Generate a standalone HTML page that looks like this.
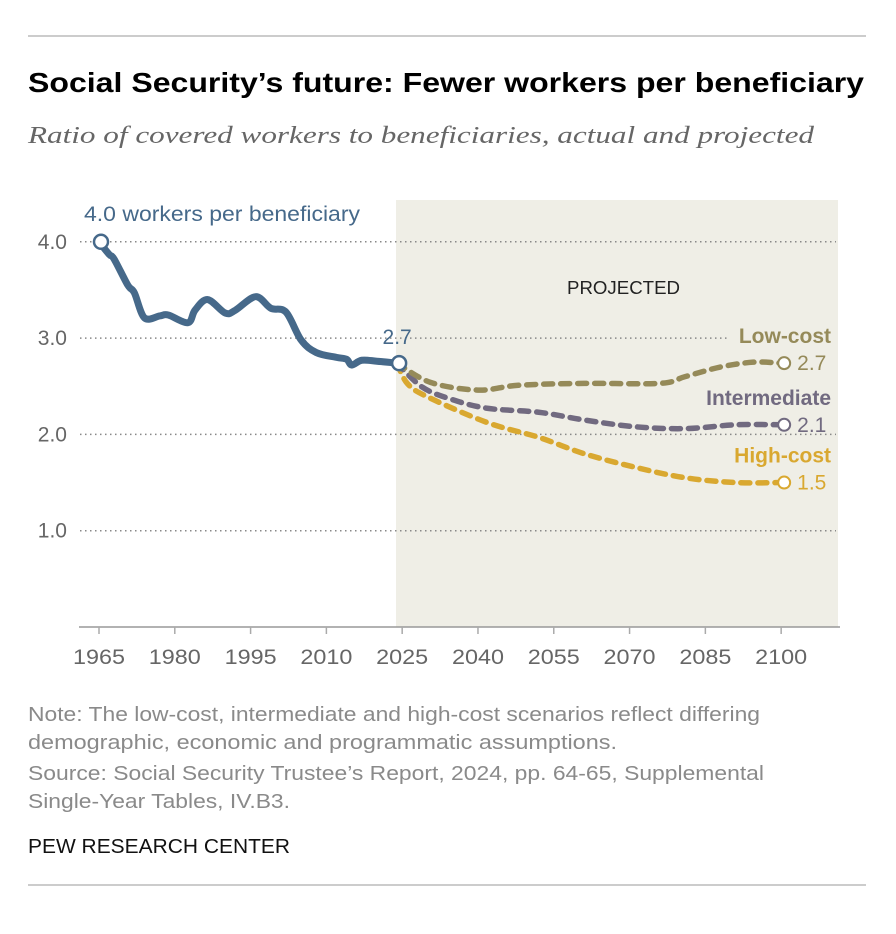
<!DOCTYPE html>
<html><head><meta charset="utf-8"><style>
html,body{margin:0;padding:0;background:#fff;}
svg{display:block;}
text{font-family:"Liberation Sans",sans-serif;}
</style></head><body>
<svg id="chart" width="896" height="934" viewBox="0 0 896 934">
<line x1="28" y1="36" x2="866" y2="36" stroke="#999" stroke-width="1"/>
<text x="28" y="92" font-size="28" font-weight="bold" fill="#000" textLength="836" lengthAdjust="spacingAndGlyphs">Social Security’s future: Fewer workers per beneficiary</text>
<text x="28" y="143" font-size="24" font-style="italic" fill="#666" style="font-family:'Liberation Serif',serif" textLength="786" lengthAdjust="spacingAndGlyphs">Ratio of covered workers to beneficiaries, actual and projected</text>
<rect x="396" y="200" width="442" height="427" fill="#efeee6"/>
<text x="567" y="294" font-size="18" fill="#222" textLength="113" lengthAdjust="spacingAndGlyphs">PROJECTED</text>
<g id="grid"></g>
<g id="axes"></g>
<g id="series"></g>
<text x="28" y="721" font-size="20" fill="#8a8a8a" textLength="732" lengthAdjust="spacingAndGlyphs">Note: The low-cost, intermediate and high-cost scenarios reflect differing</text>
<text x="28" y="749" font-size="20" fill="#8a8a8a" textLength="589" lengthAdjust="spacingAndGlyphs">demographic, economic and programmatic assumptions.</text>
<text x="28" y="780" font-size="20" fill="#8a8a8a" textLength="736" lengthAdjust="spacingAndGlyphs">Source: Social Security Trustee’s Report, 2024, pp. 64-65, Supplemental</text>
<text x="28" y="808" font-size="20" fill="#8a8a8a" textLength="262" lengthAdjust="spacingAndGlyphs">Single-Year Tables, IV.B3.</text>
<text x="28" y="853" font-size="20" fill="#111" textLength="262" lengthAdjust="spacingAndGlyphs">PEW RESEARCH CENTER</text>
<line x1="28" y1="885" x2="866" y2="885" stroke="#999" stroke-width="1"/>
</svg>
<script>
const yTicks=[1,2,3,4];
const yTickLabels=["1.0","2.0","3.0","4.0"];
const xTicks=[1965,1980,1995,2010,2025,2040,2055,2070,2085,2100];
const histYears=[1965,1967,1968,1970.7,1972,1974,1977,1978.7,1982.6,1984,1986.5,1990,1992,1996,1999,2002,2005,2008,2012,2014,2015,2017,2020,2024];
const histValues=[4.0,3.87,3.82,3.55,3.47,3.21,3.23,3.24,3.16,3.29,3.4,3.26,3.29,3.43,3.31,3.27,2.98,2.85,2.8,2.78,2.72,2.77,2.76,2.74];
const lowYears=[2024,2030.6,2040,2048,2061,2076,2081,2088,2094.5,2100];
const lowValues=[2.74,2.54,2.46,2.51,2.53,2.53,2.6,2.7,2.75,2.74];
const intYears=[2024,2029,2035,2042,2052,2061,2071,2081,2091,2100];
const intValues=[2.74,2.49,2.36,2.27,2.23,2.15,2.08,2.06,2.1,2.1];
const highYears=[2024,2026,2030,2042,2052,2061,2071,2081,2091,2100];
const highValues=[2.74,2.53,2.39,2.12,1.97,1.8,1.66,1.55,1.5,1.5];
const NS="http://www.w3.org/2000/svg";
function X(yr){return 99+(yr-1965)*5.053;}
function Y(v){return 627-96.3*v;}
function mk(tag,attrs,parent){const e=document.createElementNS(NS,tag);for(const k in attrs)e.setAttribute(k,attrs[k]);parent.appendChild(e);return e;}
const grid=document.getElementById('grid'),axes=document.getElementById('axes'),series=document.getElementById('series');
yTicks.forEach((v,i)=>{
  const l=mk('line',{x1:80,x2:v===3?730:836,y1:Y(v),y2:Y(v),stroke:'#888','stroke-width':1.5,'stroke-dasharray':'1.5 3.5'},grid);
  
  
  const t=mk('text',{x:67,y:Y(v)+7,'font-size':21,fill:'#666','text-anchor':'end'},axes);
  t.textContent=yTickLabels[i];
  
  
});
const ax=mk('line',{x1:79,x2:840,y1:627,y2:627,stroke:'#999','stroke-width':1.5},axes);


xTicks.forEach(yr=>{
  const tk=mk('line',{x1:X(yr),x2:X(yr),y1:627,y2:634,stroke:'#aaa','stroke-width':1.5},axes);
  
  
  const t=mk('text',{x:X(yr),y:664,'font-size':21,fill:'#666','text-anchor':'middle',textLength:52,lengthAdjust:'spacingAndGlyphs'},axes);
  t.textContent=String(yr);
  
  
});
function path(xs,vs){
  const p=xs.map((x,i)=>[X(x),Y(vs[i])]);
  let d='M'+p[0][0]+','+p[0][1];
  for(let i=0;i<p.length-1;i++){
    const p0=p[Math.max(0,i-1)],p1=p[i],p2=p[i+1],p3=p[Math.min(p.length-1,i+2)];
    const c1=[p1[0]+(p2[0]-p0[0])/6,p1[1]+(p2[1]-p0[1])/6],c2=[p2[0]-(p3[0]-p1[0])/6,p2[1]-(p3[1]-p1[1])/6];
    d+=' C'+c1+' '+c2+' '+p2;
  }
  return d;
}
const proj=[[highYears,highValues,'#d9a830','high-cost'],[intYears,intValues,'#716a80','intermediate'],[lowYears,lowValues,'#958a59','low-cost']];
proj.forEach(s=>{
  const p=mk('path',{d:path(s[0],s[1]),fill:'none',stroke:s[2],'stroke-width':5.5,'stroke-dasharray':'9 8','stroke-linecap':'round'},series);
  
  
  const n=s[0].length-1;
  const c=mk('circle',{cx:X(s[0][n])+3,cy:Y(s[1][n]),r:6,fill:'#fff',stroke:s[2],'stroke-width':2},series);
  
  
  const t=mk('text',{x:X(s[0][n])+16,y:Y(s[1][n])+7,'font-size':21,fill:s[2]},series);
  t.textContent=s[1][n].toFixed(1);
  
  
  const lab=mk('text',{x:831,y:Y(s[1][n])-20,'font-size':21,'font-weight':'bold',fill:s[2],'text-anchor':'end'},series);
  lab.textContent=s[3]==='low-cost'?'Low-cost':s[3]==='intermediate'?'Intermediate':'High-cost';
  
  
});
const h=mk('path',{d:path(histYears,histValues),fill:'none',stroke:'#46698a','stroke-width':7,'stroke-linejoin':'round','stroke-linecap':'round'},series);


[[0,'start'],[histYears.length-1,'end']].forEach(e=>{
  const i=e[0];
  const c=mk('circle',{cx:X(histYears[i])+2,cy:Y(histValues[i]),r:7,fill:'#fff',stroke:'#46698a','stroke-width':2.5},series);
  
  
});
const t1=mk('text',{x:84,y:221,'font-size':21,fill:'#46698a',textLength:276,lengthAdjust:'spacingAndGlyphs'},series);
t1.textContent=histValues[0].toFixed(1)+' workers per beneficiary';


const t2=mk('text',{x:X(histYears[histYears.length-1]),y:344,'font-size':21,fill:'#46698a','text-anchor':'middle'},series);
t2.textContent=histValues[histValues.length-1].toFixed(1);


</script>
</body></html>
